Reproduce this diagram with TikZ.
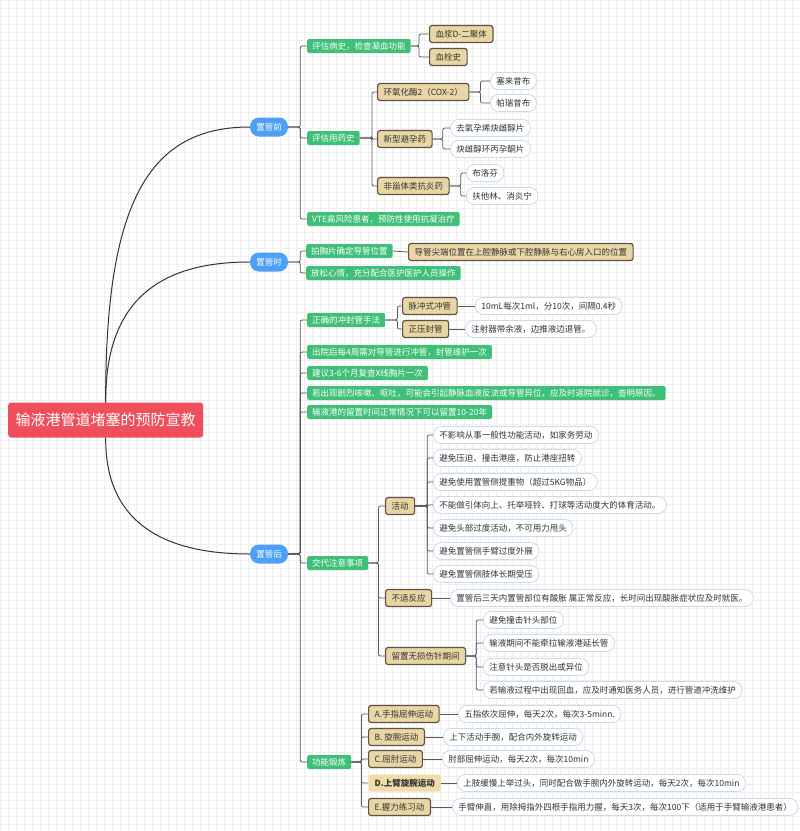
\documentclass[tikz,border=0pt]{standalone}
\usepackage{fontspec}
\setmainfont{Noto Sans CJK SC}
\usepackage{tikz}
\usetikzlibrary{positioning}
\definecolor{rootred}{HTML}{EF4F5B}
\definecolor{pillblue}{HTML}{4DA0F5}
\definecolor{topicgreen}{HTML}{3FBF78}
\definecolor{tanfill}{HTML}{E9D6A6}
\definecolor{tanlight}{HTML}{F0DCA8}
\definecolor{tanline}{HTML}{5E5240}
\definecolor{leafline}{HTML}{C8DAF0}
\definecolor{linkgray}{HTML}{5A5A5A}
\definecolor{gridgray}{HTML}{EFEFEF}
\definecolor{inkdark}{HTML}{333333}
\tikzset{
  rootbox/.style={fill=rootred, text=white, rounded corners=3pt, font=\fontsize{15}{17}\selectfont, minimum height=35pt, inner xsep=7.5pt, inner ysep=0pt, anchor=west},
  phasepill/.style={fill=pillblue, text=white, rounded corners=9pt, font=\fontsize{8.5}{10}\selectfont, minimum height=19pt, minimum width=38pt, inner sep=0pt},
  greenbox/.style={fill=topicgreen, text=white, rounded corners=2pt, font=\fontsize{8.5}{10}\selectfont, minimum height=14pt, inner xsep=5pt, inner ysep=0pt, anchor=west},
  tanbox/.style={fill=tanfill, draw=tanline, line width=1.2pt, rounded corners=2.5pt, text=inkdark, font=\fontsize{8.5}{10}\selectfont, minimum height=17pt, inner xsep=6pt, inner ysep=0pt, anchor=west},
  tanplain/.style={tanbox, draw=none, fill=tanlight, font=\fontsize{8.5}{10}\selectfont\bfseries},
  leafpill/.style={fill=white, draw=leafline, line width=0.8pt, rounded corners=8pt, text=inkdark, font=\fontsize{8.5}{10}\selectfont, minimum height=17pt, inner xsep=6pt, inner ysep=0pt, anchor=west},
  link/.style={draw=linkgray, line width=0.8pt, rounded corners=2pt},
  rootlink/.style={draw=black!80, line width=1pt},
  gridline/.style={draw=gridgray, line width=0.4pt}
}
\begin{document}
\begin{tikzpicture}[x=1pt,y=-1pt]
\useasboundingbox (0,0) rectangle (800,831);
\fill[white] (0,0) rectangle (800,831);
\foreach \gx in {0,8,...,800} \draw[gridline] (\gx,0) -- (\gx,831);
\foreach \gy in {0,8,...,831} \draw[gridline] (0,\gy) -- (800,\gy);

\node[rootbox] (root) at (8,420) {输液港管道堵塞的预防宣教};
\node[phasepill] (pre) at (269,127) {置管前};
\node[phasepill] (during) at (269,262) {置管时};
\node[phasepill] (post) at (269,554) {置管后};
\draw[rootlink] (root.north) .. controls (105,200) and (150,127) .. (pre.west);
\draw[rootlink] (root.north) .. controls (105,300) and (160,262) .. (during.west);
\draw[rootlink] (root.south) .. controls (105,520) and (160,554) .. (post.west);

\node[greenbox] (pA) at (307,46) {评估病史，检查凝血功能};
\node[greenbox] (pB) at (307,138) {评估用药史};
\node[greenbox] (pC) at (307,219) {VTE高风险患者，预防性使用抗凝治疗};
\foreach \kid in {pA,pB,pC} \draw[link] (pre.east) -- ++(12,0) |- (\kid.west);

\node[tanbox] (pA1) at (429,34) {血浆D-二聚体};
\node[tanbox] (pA2) at (429,57) {血栓史};
\foreach \kid in {pA1,pA2} \draw[link] (pA.east) -- ++(8,0) |- (\kid.west);

\node[tanbox] (pB1) at (377,92) {环氧化酶2（COX-2）};
\node[tanbox] (pB2) at (377,139) {新型避孕药};
\node[tanbox] (pB3) at (377,186) {非甾体类抗炎药};
\foreach \kid in {pB1,pB2,pB3} \draw[link] (pB.east) -- ++(12,0) |- (\kid.west);

\node[leafpill] (pB1a) at (490,81) {塞来昔布};
\node[leafpill] (pB1b) at (490,103) {帕瑞昔布};
\foreach \kid in {pB1a,pB1b} \draw[link] (pB1.east) -- ++(11,0) |- (\kid.west);
\node[leafpill] (pB2a) at (450,128) {去氧孕烯炔雌醇片};
\node[leafpill] (pB2b) at (450,149) {炔雌醇环丙孕酮片};
\foreach \kid in {pB2a,pB2b} \draw[link] (pB2.east) -- ++(10,0) |- (\kid.west);
\node[leafpill] (pB3a) at (466,173) {布洛芬};
\node[leafpill] (pB3b) at (466,196) {扶他林、消炎宁};
\foreach \kid in {pB3a,pB3b} \draw[link] (pB3.east) -- ++(11,0) |- (\kid.west);

\node[greenbox] (dA) at (306,251) {拍胸片确定导管位置};
\node[greenbox] (dB) at (306,273) {放松心情，充分配合医护医护人员操作};
\foreach \kid in {dA,dB} \draw[link] (during.east) -- ++(12,0) |- (\kid.west);
\node[tanbox] (dA1) at (408,252) {导管尖端位置在上腔静脉或下腔静脉与右心房入口的位置};
\draw[link] (dA.east) -- (dA1.west);

\node[greenbox] (qA) at (307,320) {正确的冲封管手法};
\node[greenbox] (qB) at (307,352) {出院后每4周需对导管进行冲管，封管维护一次};
\node[greenbox] (qC) at (307,373) {建议3-6个月复查X线胸片一次};
\node[greenbox] (qD) at (307,393) {若出现剧烈咳嗽、呕吐，可能会引起静脉血液反流或导管异位，应及时返院就诊，查明原因。};
\node[greenbox] (qE) at (307,412) {输液港的留置时间正常情况下可以留置10-20年};
\node[greenbox] (qF) at (307,563) {交代注意事项};
\node[greenbox] (qG) at (307,762) {功能锻炼};
\foreach \kid in {qA,qB,qC,qD,qE,qF,qG} \draw[link] (post.east) -- ++(12,0) |- (\kid.west);

\node[tanbox] (qA1) at (402,306) {脉冲式冲管};
\node[tanbox] (qA2) at (402,329) {正压封管};
\foreach \kid in {qA1,qA2} \draw[link] (qA.east) -- ++(12,0) |- (\kid.west);
\node[leafpill] (qA1a) at (475,306) {10mL每次1ml，分10次，间隔0.4秒};
\node[leafpill] (qA2a) at (465,329) {注射器带余液，边推液边退管。};
\draw[link] (qA1.east) -- (qA1a.west);
\draw[link] (qA2.east) -- (qA2a.west);

\node[tanbox] (qF1) at (385,506) {活动};
\node[tanbox] (qF2) at (385,598) {不适反应};
\node[tanbox] (qF3) at (385,656) {留置无损伤针期间};
\foreach \kid in {qF1,qF2,qF3} \draw[link] (qF.east) -- ++(10,0) |- (\kid.west);

\node[leafpill] (act1) at (433,435) {不影响从事一般性功能活动，如家务劳动};
\node[leafpill] (act2) at (433,458) {避免压迫、撞击港座，防止港座扭转};
\node[leafpill] (act3) at (433,482) {避免使用置管侧提重物（超过5KG物品）};
\node[leafpill] (act4) at (433,505) {不能做引体向上、托举哑铃、打球等活动度大的体育活动。};
\node[leafpill] (act5) at (433,528) {避免头部过度活动，不可用力甩头};
\node[leafpill] (act6) at (433,551) {避免置管侧手臂过度外展};
\node[leafpill] (act7) at (433,574) {避免置管侧肢体长期受压};
\foreach \kid in {act1,act2,act3,act4,act5,act6,act7} \draw[link] (qF1.east) -- ++(12,0) |- (\kid.west);

\node[leafpill] (qF2a) at (450,598) {置管后三天内置管部位有酸胀 属正常反应，长时间出现酸胀症状应及时就医。};
\draw[link] (qF2.east) -- (qF2a.west);

\node[leafpill] (ndl1) at (483,620) {避免撞击针头部位};
\node[leafpill] (ndl2) at (483,643) {输液期间不能牵拉输液港延长管};
\node[leafpill] (ndl3) at (483,667) {注意针头是否脱出或异位};
\node[leafpill] (ndl4) at (483,690) {若输液过程中出现回血，应及时通知医务人员，进行管道冲洗维护};
\foreach \kid in {ndl1,ndl2,ndl3,ndl4} \draw[link] (qF3.east) -- ++(10,0) |- (\kid.west);

\node[tanbox] (exA) at (368,714) {A.手指屈伸运动};
\node[tanbox] (exB) at (368,737) {B. 旋腕运动};
\node[tanbox] (exC) at (368,759) {C.屈肘运动};
\node[tanplain] (exD) at (368,783) {D.上臂旋腕运动};
\node[tanbox] (exE) at (368,807) {E.握力练习动};
\foreach \kid in {exA,exB,exC,exD,exE} \draw[link] (qG.east) -- ++(10,0) |- (\kid.west);

\node[leafpill] (exA1) at (458,714) {五指依次屈伸，每天2次，每次3-5minn.};
\node[leafpill] (exB1) at (443,737) {上下活动手腕，配合内外旋转运动};
\node[leafpill] (exC1) at (442,759) {肘部屈伸运动，每天2次，每次10min};
\node[leafpill] (exD1) at (457,783) {上肢缓慢上举过头，同时配合做手腕内外旋转运动，每天2次，每次10min};
\node[leafpill] (exE1) at (452,807) {手臂伸直，用除拇指外四根手指用力握，每天3次，每次100下（适用于手臂输液港患者）};
\foreach \src/\kid in {exA/exA1,exB/exB1,exC/exC1,exD/exD1,exE/exE1} \draw[link] (\src.east) -- (\kid.west);
\end{tikzpicture}
\end{document}
